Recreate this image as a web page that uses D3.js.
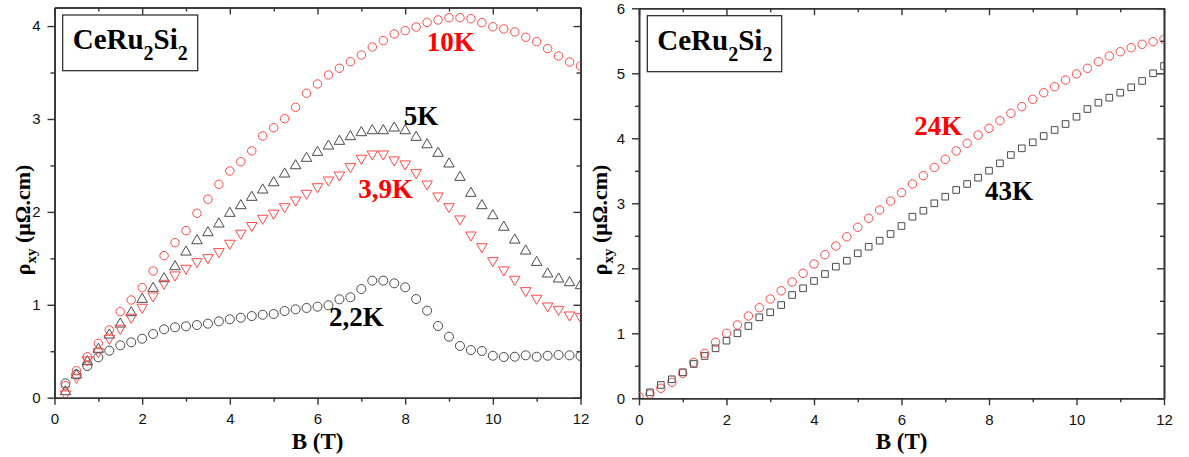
<!DOCTYPE html>
<html>
<head>
<meta charset="utf-8">
<script src="https://cdn.jsdelivr.net/npm/d3@7"></script>
<style>
  body { margin: 0; background: #fff; }
  svg { display: block; }
  .tick text { font-family: "Liberation Sans", Arial, sans-serif; font-size: 15px; fill: #111; }
</style>
</head>
<body>
<script>
// ---------------- DATA ----------------
// Left panel: field values (T)
const fieldLeft = [0.25,0.5,0.75,1,1.25,1.5,1.75,2,2.25,2.5,2.75,3,3.25,3.5,3.75,4,4.25,4.5,4.75,5,5.25,5.5,5.75,6,6.25,6.5,6.75,7,7.25,7.5,7.75,8,8.25,8.5,8.75,9,9.25,9.5,9.75,10,10.25,10.5,10.75,11,11.25,11.5,11.75,12];
// rho_xy (µΩ.cm)
const rho10K = [0.13,0.291,0.441,0.585,0.729,0.926,1.052,1.184,1.364,1.529,1.669,1.798,
  1.985,2.136,2.297,2.44,2.54,2.656,2.817,2.906,3.003,3.126,3.277,3.377,
  3.474,3.546,3.617,3.689,3.775,3.843,3.915,3.951,3.99,4.04,4.066,4.09,
  4.09,4.08,4.037,3.993,3.969,3.937,3.88,3.832,3.757,3.678,3.613,3.57];
const rho5K = [0.065,0.244,0.388,0.521,0.675,0.793,0.915,1.059,1.178,1.281,1.41,1.568,
  1.69,1.776,1.87,1.985,2.067,2.157,2.236,2.314,2.408,2.497,2.577,2.641,
  2.709,2.76,2.81,2.853,2.874,2.874,2.903,2.874,2.803,2.723,2.631,2.516,
  2.372,2.2,2.067,1.959,1.835,1.697,1.579,1.457,1.332,1.278,1.238,1.206];
const rho3p9K = [0.04,0.22,0.406,0.495,0.639,0.747,0.865,0.973,1.095,1.231,1.321,1.393,
  1.464,1.507,1.572,1.662,1.77,1.853,1.931,1.985,2.056,2.128,2.2,2.271,
  2.343,2.397,2.487,2.577,2.623,2.623,2.559,2.516,2.422,2.3,2.171,2.056,
  1.924,1.751,1.625,1.475,1.375,1.274,1.152,1.07,0.987,0.951,0.89,0.872];
const rho2p2K = [0.155,0.25,0.341,0.435,0.506,0.564,0.596,0.635,0.686,0.736,0.758,0.768,
  0.782,0.797,0.822,0.844,0.861,0.879,0.893,0.901,0.933,0.951,0.966,0.98,
  0.995,1.059,1.081,1.17,1.26,1.26,1.231,1.188,1.062,0.937,0.772,0.657,
  0.557,0.513,0.503,0.452,0.438,0.441,0.456,0.441,0.452,0.46,0.456,0.449];

// Right panel
const field24K = [0,0.25,0.5,0.75,1,1.25,1.5,1.75,2,2.25,2.5,2.75,3,3.25,3.5,3.75,4,4.25,4.5,4.75,5,5.25,5.5,5.75,6,6.25,6.5,6.75,7,7.25,7.5,7.75,8,8.25,8.5,8.75,9,9.25,9.5,9.75,10,10.25,10.5,10.75,11,11.25,11.5,11.75,12];
const rho24K = [0.025,0.066,0.154,0.246,0.385,0.554,0.692,0.862,1.0,1.128,1.266,1.394,1.528,
  1.655,1.789,1.923,2.066,2.209,2.343,2.486,2.63,2.769,2.897,3.035,3.163,
  3.297,3.425,3.553,3.677,3.805,3.923,4.05,4.154,4.271,4.385,4.487,4.6,
  4.702,4.794,4.897,4.99,5.077,5.179,5.266,5.332,5.394,5.446,5.486,5.523];
const field43K = [0.25,0.5,0.75,1,1.25,1.5,1.75,2,2.25,2.5,2.75,3,3.25,3.5,3.75,4,4.25,4.5,4.75,5,5.25,5.5,5.75,6,6.25,6.5,6.75,7,7.25,7.5,7.75,8,8.25,8.5,8.75,9,9.25,9.5,9.75,10,10.25,10.5,10.75,11,11.25,11.5,11.75,12];
const rho43K = [0.092,0.205,0.292,0.4,0.528,0.651,0.769,0.887,1.0,1.112,1.246,1.323,
  1.435,1.589,1.692,1.805,1.912,2.025,2.117,2.23,2.332,2.425,2.528,2.651,
  2.794,2.886,3.0,3.102,3.205,3.297,3.394,3.502,3.615,3.743,3.846,3.938,
  4.035,4.128,4.22,4.332,4.451,4.548,4.625,4.702,4.785,4.882,5.0,5.112];

// Axis ticks
const xMajorTicks = [0,2,4,6,8,10,12];
const xMinorTicks = [1,3,5,7,9,11];
const yMajorLeft = [0,1,2,3,4];
const yMinorLeft = [0.5,1.5,2.5,3.5];
const yMajorRight = [0,1,2,3,4,5,6];
const yMinorRight = [0.5,1.5,2.5,3.5,4.5,5.5];

const compound = ["CeRu", "2", "Si", "2"];
const xTitle = "B (T)";

// ---------------- DRAWING ----------------
const W = 1189, H = 457;
const svg = d3.select("body").append("svg").attr("width", W).attr("height", H);

const RED = "#ff4a4a", GRAY = "#4a4a4a";
const serif = "'Liberation Serif', 'Times New Roman', serif";

function panel(cfg) {
  const x = d3.scaleLinear().domain([0, 12]).range([cfg.x0, cfg.x1]);
  const y = d3.scaleLinear().domain([0, cfg.ymax]).range([cfg.y0, cfg.y1]);
  const g = svg.append("g");
  const clipId = "clip" + cfg.id;
  svg.append("clipPath").attr("id", clipId).append("rect")
    .attr("x", cfg.x0).attr("y", cfg.y1).attr("width", cfg.x1 - cfg.x0).attr("height", cfg.y0 - cfg.y1);

  const axStroke = "#333";
  function styleAxis(sel) {
    sel.selectAll("path.domain").attr("stroke", axStroke).attr("stroke-width", 1.6);
    sel.selectAll(".tick line").attr("stroke", axStroke).attr("stroke-width", 1.4);
  }
  // bottom
  g.append("g").attr("transform", `translate(0,${cfg.y0})`)
    .call(d3.axisBottom(x).tickValues(xMajorTicks).tickSize(7).tickSizeOuter(0).tickPadding(9).tickFormat(d3.format("d")))
    .call(styleAxis);
  g.append("g").attr("transform", `translate(0,${cfg.y0})`)
    .call(d3.axisBottom(x).tickValues(xMinorTicks).tickSize(4).tickSizeOuter(0).tickFormat(""))
    .call(styleAxis);
  // top (inward)
  g.append("g").attr("transform", `translate(0,${cfg.y1})`)
    .call(d3.axisTop(x).tickValues(xMajorTicks).tickSize(-7).tickSizeOuter(0).tickFormat(""))
    .call(styleAxis);
  g.append("g").attr("transform", `translate(0,${cfg.y1})`)
    .call(d3.axisTop(x).tickValues(xMinorTicks).tickSize(-4).tickSizeOuter(0).tickFormat(""))
    .call(styleAxis);
  // left
  g.append("g").attr("transform", `translate(${cfg.x0},0)`)
    .call(d3.axisLeft(y).tickValues(cfg.yMajor).tickSize(7).tickSizeOuter(0).tickPadding(7).tickFormat(d3.format("d")))
    .call(styleAxis);
  g.append("g").attr("transform", `translate(${cfg.x0},0)`)
    .call(d3.axisLeft(y).tickValues(cfg.yMinor).tickSize(4).tickSizeOuter(0).tickFormat(""))
    .call(styleAxis);
  // right (inward)
  g.append("g").attr("transform", `translate(${cfg.x1},0)`)
    .call(d3.axisRight(y).tickValues(cfg.yMajor).tickSize(-7).tickSizeOuter(0).tickFormat(""))
    .call(styleAxis);
  g.append("g").attr("transform", `translate(${cfg.x1},0)`)
    .call(d3.axisRight(y).tickValues(cfg.yMinor).tickSize(-4).tickSizeOuter(0).tickFormat(""))
    .call(styleAxis);

  // data
  const dg = g.append("g").attr("clip-path", `url(#${clipId})`);
  cfg.series.forEach(s => {
    const pts = s.xs.map((b, i) => [b, s.ys[i]]);
    const sym = d3.symbol().type(s.sym).size(s.size);
    dg.append("g").selectAll("path").data(pts).join("path")
      .attr("transform", d => `translate(${x(d[0])},${y(d[1])})${s.rot ? " rotate(180)" : ""}`)
      .attr("d", sym)
      .attr("fill", "none")
      .attr("stroke", s.color)
      .attr("stroke-width", 1);
  });

  // compound box
  g.append("rect").attr("x", cfg.box[0]).attr("y", cfg.box[1]).attr("width", cfg.box[2]).attr("height", cfg.box[3])
    .attr("fill", "#fff").attr("stroke", "#222").attr("stroke-width", 1.2);
  const t = g.append("text").attr("x", cfg.box[0] + 10).attr("y", cfg.box[1] + 34)
    .attr("font-family", serif).attr("font-weight", "bold").attr("font-size", 29).attr("fill", "#000");
  t.append("tspan").text(compound[0]);
  t.append("tspan").attr("font-size", 20).attr("dy", 11).text(compound[1]);
  t.append("tspan").attr("dy", -11).text(compound[2]);
  t.append("tspan").attr("font-size", 20).attr("dy", 11).text(compound[3]);

  // series labels
  cfg.labels.forEach(l => {
    g.append("text").attr("x", x(l.bx)).attr("y", y(l.v))
      .attr("font-family", serif).attr("font-weight", "bold").attr("font-size", 27)
      .attr("fill", l.color).text(l.text);
  });

  // axis titles
  g.append("text").attr("x", (cfg.x0 + cfg.x1) / 2).attr("y", 448.5).attr("text-anchor", "middle")
    .attr("font-family", serif).attr("font-weight", "bold").attr("font-size", 23).attr("fill", "#000")
    .text(xTitle);
  const yt = g.append("text").attr("transform", `translate(${cfg.ytx},220) rotate(-90)`).attr("text-anchor", "middle")
    .attr("font-family", serif).attr("font-weight", "bold").attr("font-size", 22).attr("fill", "#000");
  yt.append("tspan").text("ρ");
  yt.append("tspan").attr("font-size", 15).attr("dy", 6).text("xy");
  yt.append("tspan").attr("dy", -6).text(" (μΩ.cm)");
}

panel({
  id: "L", x0: 54.5, x1: 580.5, y0: 397.7, y1: 7.5, ymax: 4.2,
  yMajor: yMajorLeft, yMinor: yMinorLeft, ytx: 30,
  box: [62.7, 15, 135, 55.7],
  series: [
    { xs: fieldLeft, ys: rho2p2K, sym: d3.symbolCircle, size: 64, color: GRAY },
    { xs: fieldLeft, ys: rho10K, sym: d3.symbolCircle, size: 56, color: RED },
    { xs: fieldLeft, ys: rho5K, sym: d3.symbolTriangle, size: 48, color: GRAY },
    { xs: fieldLeft, ys: rho3p9K, sym: d3.symbolTriangle, size: 48, color: RED, rot: true }
  ],
  labels: [
    { text: "10K", bx: 8.49, v: 3.735, color: "#ff0000" },
    { text: "5K", bx: 7.97, v: 2.935, color: "#000" },
    { text: "3,9K", bx: 6.93, v: 2.146, color: "#ff0000" },
    { text: "2,2K", bx: 6.26, v: 0.772, color: "#000" }
  ]
});

panel({
  id: "R", x0: 639, x1: 1164, y0: 398.3, y1: 8.3, ymax: 6,
  yMajor: yMajorRight, yMinor: yMinorRight, ytx: 607,
  box: [647.3, 15.7, 134.4, 56],
  series: [
    { xs: field24K, ys: rho24K, sym: d3.symbolCircle, size: 56, color: RED },
    { xs: field43K, ys: rho43K, sym: d3.symbolSquare, size: 44, color: GRAY }
  ],
  labels: [
    { text: "24K", bx: 6.29, v: 4.051, color: "#ff0000" },
    { text: "43K", bx: 7.91, v: 3.051, color: "#000" }
  ]
});
</script>
</body>
</html>
